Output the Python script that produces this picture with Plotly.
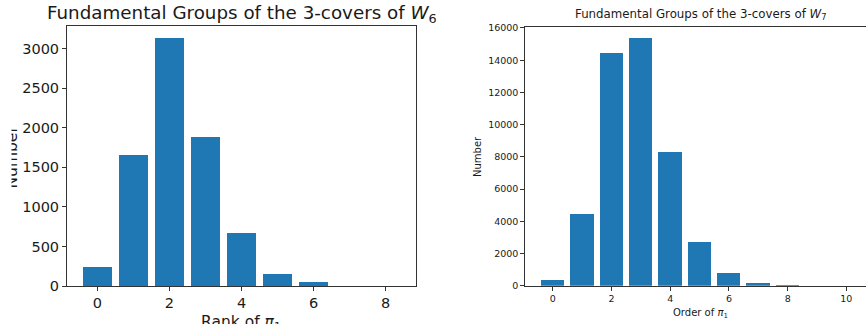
import plotly.graph_objects as go

W, H = 866, 324

# Left chart data: rank of pi_1 for 3-covers of W6
rank_x = [0, 1, 2, 3, 4, 5, 6, 7, 8]
rank_counts = [236, 1658, 3131, 1881, 669, 150, 50, 0, 0]
left_yticks = [0, 500, 1000, 1500, 2000, 2500, 3000]
left_xticks = [0, 2, 4, 6, 8]

# Right chart data: order of pi_1 for 3-covers of W7
order_x = [0, 1, 2, 3, 4, 5, 6, 7, 8, 9, 10]
order_counts = [354, 4469, 14444, 15394, 8318, 2712, 832, 188, 45, 0, 0]
right_yticks = [0, 2000, 4000, 6000, 8000, 10000, 12000, 14000, 16000]
right_xticks = [0, 2, 4, 6, 8, 10]

BLUE = "#1f77b4"
FONT = "DejaVu Sans"
AX = "#333333"
TXT = "#1a1a1a"


def px(x):
    return x / W


def py(y):
    return 1 - y / H


fig = go.Figure()
fig.add_trace(go.Bar(x=rank_x, y=rank_counts, width=0.8, marker=dict(color=BLUE, line=dict(width=0)),
                     xaxis="x", yaxis="y", showlegend=False))
fig.add_trace(go.Bar(x=order_x, y=order_counts, width=0.8, marker=dict(color=BLUE, line=dict(width=0)),
                     xaxis="x2", yaxis="y2", showlegend=False))

common_ax = dict(showgrid=False, zeroline=False, showline=True, linecolor=AX, linewidth=1,
                 ticks="outside", tickcolor=AX, ticklen=4, tickwidth=1, automargin=False)

fig.update_layout(
    width=W, height=H, margin=dict(l=0, r=0, t=0, b=0, autoexpand=False),
    paper_bgcolor="white", plot_bgcolor="white",
    font=dict(family=FONT, color=TXT),
    bargap=0,
    xaxis=dict(domain=[px(67), px(416)], range=[-0.84, 8.84], tickvals=left_xticks,
               ticktext=[str(v) for v in left_xticks],
               tickfont=dict(size=14.5, color=TXT), mirror=True, anchor="y", **common_ax),
    yaxis=dict(domain=[py(286), py(26)], range=[0, 3286], tickvals=left_yticks,
               ticktext=[str(v) for v in left_yticks],
               tickfont=dict(size=14.5, color=TXT), mirror=True, anchor="x", **common_ax),
    xaxis2=dict(domain=[px(525.3), 1], range=[-0.94, 10.67], tickvals=right_xticks,
                ticktext=[str(v) for v in right_xticks],
                tickfont=dict(size=9.5, color=TXT), mirror=True, anchor="y2", **common_ax),
    yaxis2=dict(domain=[py(285.7), py(26.7)], range=[0, 16080], tickvals=right_yticks,
                ticktext=[str(v) for v in right_yticks],
                tickfont=dict(size=9.5, color=TXT), mirror=False, anchor="x2", **common_ax),
)

ann = []
# Titles
ann.append(dict(text="Fundamental Groups of the 3-covers of <i>W</i><sub>6</sub>", x=px(242), y=py(14),
                xref="paper", yref="paper", showarrow=False, xanchor="center", yanchor="middle",
                font=dict(size=18.3, color=TXT)))
ann.append(dict(text="Fundamental Groups of the 3-covers of <i>W</i><sub>7</sub>", x=px(700), y=py(15),
                xref="paper", yref="paper", showarrow=False, xanchor="center", yanchor="middle",
                font=dict(size=11.8, color=TXT)))
# Axis labels
ann.append(dict(text="Rank of <i>π</i><sub>1</sub>", x=px(241.5), y=py(311), xref="paper", yref="paper",
                showarrow=False, xanchor="center", yanchor="top", font=dict(size=15.5, color=TXT)))
ann.append(dict(text="Order of <i>π</i><sub>1</sub>", x=px(700), y=py(305), xref="paper", yref="paper",
                showarrow=False, xanchor="center", yanchor="top", font=dict(size=10, color=TXT)))
ann.append(dict(text="Number", x=px(478), y=py(157), xref="paper", yref="paper", textangle=-90,
                showarrow=False, xanchor="center", yanchor="middle", font=dict(size=10, color=TXT)))
ann.append(dict(text="Number", x=px(11), y=py(157.5), xref="paper", yref="paper", textangle=-90,
                showarrow=False, xanchor="center", yanchor="middle", font=dict(size=15.5, color=TXT)))
# white mask that hides the left part of the clipped y label
ann.append(dict(text="&nbsp;", x=0, y=py(157.5), xref="paper", yref="paper", showarrow=False,
                xanchor="left", yanchor="middle", width=10, height=80, bgcolor="white",
                borderpad=0, font=dict(size=2)))
fig.update_layout(annotations=ann)

fig.write_html("out.html")
